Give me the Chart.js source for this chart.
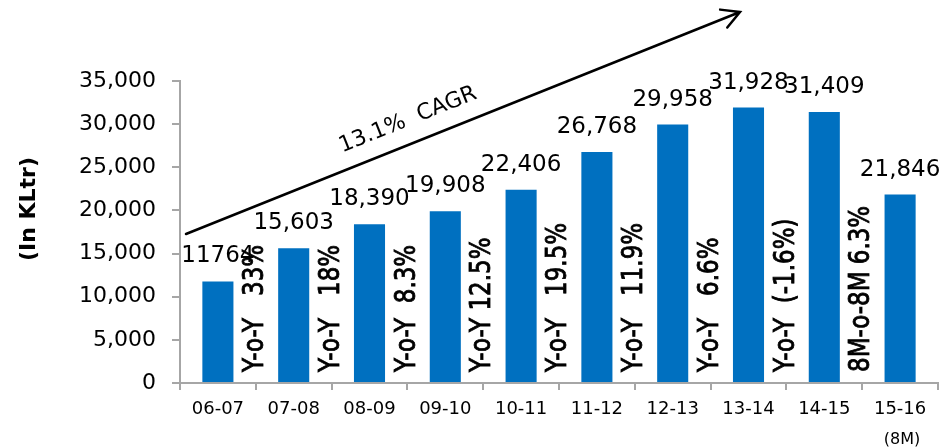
<!DOCTYPE html>
<html>
<head>
<meta charset="utf-8">
<script src="https://cdn.jsdelivr.net/npm/chart.js@4.4.0/dist/chart.umd.min.js"></script>
<style>
  html, body { margin: 0; padding: 0; background: #fff; }
  #wrap { width: 943px; height: 447px; position: relative; }
</style>
</head>
<body>
<div id="wrap"><canvas id="chart"></canvas></div>
<script>
'use strict';

// ─── Data ─────────────────────────────────────────────────────────────────────

const years = ['06-07', '07-08', '08-09', '09-10', '10-11', '11-12', '12-13', '13-14', '14-15', '15-16'];
const volumes = [11764, 15603, 18390, 19908, 22406, 26768, 29958, 31928, 31409, 21846];
const valueLabels = ['11764', '15,603', '18,390', '19,908', '22,406', '26,768', '29,958', '31,928', '31,409', '21,846'];
const growthLabels = ['Y-o-Y   33%', 'Y-o-Y   18%', 'Y-o-Y  8.3%', 'Y-o-Y 12.5%', 'Y-o-Y   19.5%',
  'Y-o-Y   11.9%', 'Y-o-Y   6.6%', 'Y-o-Y  (-1.6%)', '8M-o-8M 6.3%'];
const yTicks = [0, 5000, 10000, 15000, 20000, 25000, 30000, 35000];
const lastNote = '(8M)';
const cagrText = '13.1%  CAGR';
const yTitle = '(In KLtr)';

const FONT = "'DejaVu Sans', Verdana, sans-serif";
const AXIS = '#a6a6a6';
const BLUE = '#0070c0';

// ─── Annotations ──────────────────────────────────────────────────────────────

const annotations = {
  id: 'annotations',
  afterDatasetsDraw(chart) {
    const { ctx, scales } = chart;
    const bars = chart.getDatasetMeta(0).data;
    const x = scales.x;
    const step = x.getPixelForValue(1) - x.getPixelForValue(0);

    ctx.save();
    ctx.fillStyle = '#000';

    // values above bars
    ctx.font = `23px ${FONT}`;
    ctx.textAlign = 'center';
    ctx.textBaseline = 'alphabetic';
    bars.forEach((b, i) => {
      ctx.fillText(valueLabels[i], b.x, b.y - 19);
    });

    // growth labels between bars
    ctx.font = `23px ${FONT}`;
    ctx.textAlign = 'left';
    ctx.textBaseline = 'middle';
    ctx.strokeStyle = '#000';
    ctx.lineWidth = 0.7;
    growthLabels.forEach((t, i) => {
      const cx = x.getPixelForValue(i) + step / 2;
      ctx.save();
      ctx.translate(cx, scales.y.bottom - 11);
      ctx.rotate(-Math.PI / 2);
      ctx.scale(1, 1.2);
      ctx.fillText(t, 0, 0);
      ctx.strokeText(t, 0, 0);
      ctx.restore();
    });

    // (8M) under the last category
    ctx.font = `16px ${FONT}`;
    ctx.textAlign = 'center';
    ctx.fillText(lastNote, x.getPixelForValue(years.length - 1) + 2, 440);

    // y title
    ctx.font = `bold 22px ${FONT}`;
    ctx.save();
    ctx.translate(29, 209);
    ctx.rotate(-Math.PI / 2);
    ctx.fillText(yTitle, 0, 0);
    ctx.restore();

    // CAGR arrow
    const x0 = 186, y0 = 234, x1 = 740, y1 = 12;
    const ang = Math.atan2(y1 - y0, x1 - x0);
    ctx.lineWidth = 2.5;
    ctx.lineCap = 'round';
    ctx.beginPath();
    ctx.moveTo(x0, y0);
    ctx.lineTo(x1, y1);
    ctx.moveTo(x1 - 20 * Math.cos(ang - 0.5), y1 - 20 * Math.sin(ang - 0.5));
    ctx.lineTo(x1, y1);
    ctx.lineTo(x1 - 20 * Math.cos(ang + 0.5), y1 - 20 * Math.sin(ang + 0.5));
    ctx.stroke();

    ctx.font = `22px ${FONT}`;
    ctx.translate(408, 120);
    ctx.rotate(ang);
    ctx.fillText(cagrText, 0, 0);
    ctx.restore();
  },
};

// ─── Chart ────────────────────────────────────────────────────────────────────

new Chart(document.getElementById('chart'), {
  type: 'bar',
  data: {
    labels: years,
    datasets: [{
      data: volumes,
      backgroundColor: BLUE,
      borderWidth: 0,
      barPercentage: 0.41,
      categoryPercentage: 1,
    }],
  },
  options: {
    responsive: true,
    maintainAspectRatio: false,
    animation: false,
    layout: { padding: { top: 81, right: 5, left: 0, bottom: 0 } },
    plugins: { legend: { display: false }, tooltip: { enabled: false } },
    scales: {
      x: {
        afterFit: (s) => { s.height = 64; },
        grid: { drawOnChartArea: false, drawTicks: true, tickLength: 7, color: AXIS, lineWidth: 2 },
        border: { display: true, color: AXIS, width: 2 },
        ticks: { color: '#000', font: { family: FONT, size: 18 }, padding: 9, maxRotation: 0 },
      },
      y: {
        min: 0,
        max: 35000,
        afterFit: (s) => { s.width = 180; },
        afterBuildTicks: (s) => { s.ticks = yTicks.map((v) => ({ value: v })); },
        grid: { drawOnChartArea: false, drawTicks: true, tickLength: 8, color: AXIS, lineWidth: 2 },
        border: { display: true, color: AXIS, width: 2 },
        ticks: {
          color: '#000',
          font: { family: FONT, size: 22 },
          padding: 16,
          callback: (v) => v.toLocaleString('en-US'),
        },
      },
    },
  },
  plugins: [annotations],
});
</script>
</body>
</html>
